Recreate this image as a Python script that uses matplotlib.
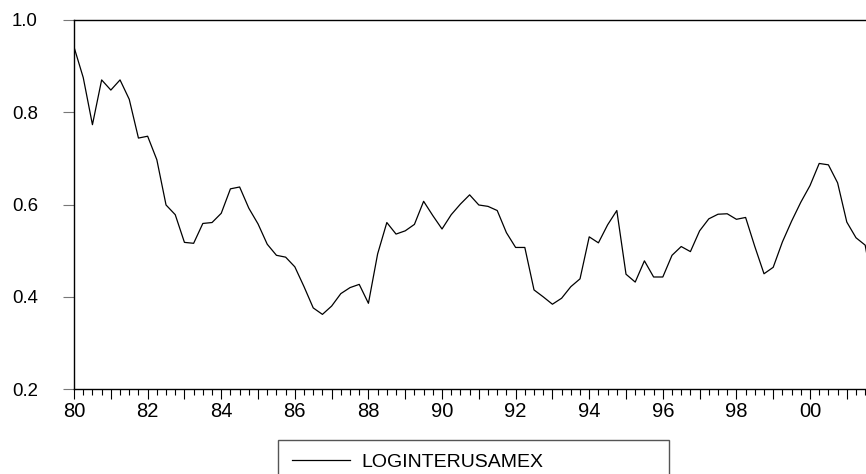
import numpy as np
import matplotlib
matplotlib.use('Agg')
import matplotlib.pyplot as plt
from matplotlib.ticker import MultipleLocator, FuncFormatter

plt.rcParams['font.family'] = ['Liberation Sans', 'DejaVu Sans']

# quarterly series, 1980Q1 onward
series_name = 'LOGINTERUSAMEX'
start_year = 1980
values = [
    0.941, 0.875, 0.773, 0.870, 0.848, 0.870, 0.828, 0.744,   # 80-81
    0.748, 0.697, 0.599, 0.578, 0.518, 0.516, 0.559, 0.561,   # 82-83
    0.581, 0.634, 0.638, 0.592, 0.558, 0.514, 0.490, 0.486,   # 84-85
    0.465, 0.422, 0.376, 0.362, 0.380, 0.407, 0.420, 0.427,   # 86-87
    0.386, 0.493, 0.561, 0.536, 0.543, 0.557, 0.607, 0.576,   # 88-89
    0.547, 0.578, 0.601, 0.621, 0.599, 0.596, 0.587, 0.539,   # 90-91
    0.507, 0.507, 0.415, 0.400, 0.384, 0.397, 0.422, 0.439,   # 92-93
    0.530, 0.517, 0.556, 0.587, 0.449, 0.432, 0.478, 0.443,   # 94-95
    0.443, 0.490, 0.509, 0.498, 0.543, 0.569, 0.579, 0.580,   # 96-97
    0.568, 0.572, 0.509, 0.450, 0.464, 0.519, 0.564, 0.605,   # 98-99
    0.641, 0.689, 0.686, 0.647, 0.562, 0.528, 0.512, 0.400,   # 00-01
]
y_ticks = [0.2, 0.4, 0.6, 0.8, 1.0]

quarters = start_year + np.arange(len(values)) / 4.0

fig = plt.figure(figsize=(8.66, 4.74), dpi=100)
ax = fig.add_axes([0.0855, 0.179, 0.9145, 0.779])

ax.plot(quarters, values, color='black', linewidth=0.9, label=series_name)

ax.set_xlim(1980, 1980 + 792 / 36.8)
ax.set_ylim(0.2, 1.0)

# x: tick every year, minor every quarter, label every 2nd year
ax.xaxis.set_major_locator(MultipleLocator(1))
ax.xaxis.set_minor_locator(MultipleLocator(0.25))
ax.xaxis.set_major_formatter(FuncFormatter(
    lambda v, p: '%02d' % (int(round(v)) % 100) if int(round(v)) % 2 == 0 else ''))
ax.tick_params(axis='x', which='major', length=7.5, width=0.8, direction='out',
               labelsize=14.5, pad=2)
ax.tick_params(axis='x', which='minor', length=4, width=0.8, direction='out')

ax.set_yticks(y_ticks)
ax.set_yticklabels(['%.1f' % t for t in y_ticks])
ax.tick_params(axis='y', length=8, width=0.8, color='#777777', direction='out',
               labelsize=13.4, pad=18)

ax.spines['right'].set_visible(False)
for s in ['left', 'top', 'bottom']:
    ax.spines[s].set_linewidth(1.0)
    ax.spines[s].set_color('black')

# legend box, bottom part falls off the figure like the original
fig.legend(loc='center', bbox_to_anchor=(0.321, 0.0253, 0.4515, 0), mode='expand',
           borderaxespad=0, fontsize=14, handlelength=3.0, handletextpad=0.6,
           borderpad=0.7, fancybox=False, framealpha=1, edgecolor='#555555')

plt.savefig('out.png', dpi=100)
